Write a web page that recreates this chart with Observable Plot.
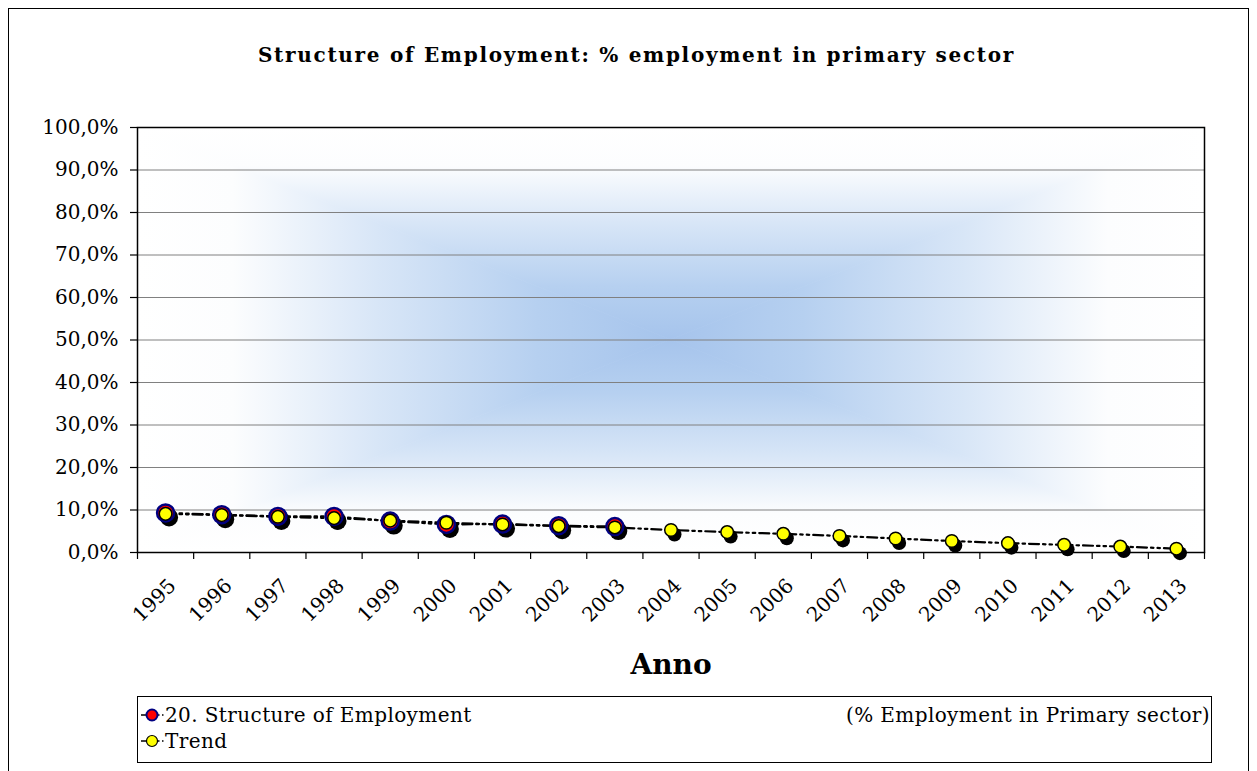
<!DOCTYPE html>
<html><head><meta charset="utf-8">
<script src="https://cdn.jsdelivr.net/npm/d3@7"></script>
<script src="https://cdn.jsdelivr.net/npm/@observablehq/plot@0.6"></script>
<style>
body{margin:0;background:#fff;font-family:"DejaVu Serif",serif;width:1257px;height:771px;overflow:hidden;position:relative;}
#border{position:absolute;left:8px;top:8px;width:1239px;height:800px;border:1.5px solid #000;}
#title{position:absolute;left:8px;width:1257px;top:43px;text-align:center;font-weight:bold;font-size:20px;letter-spacing:1.7px;color:#000;}
#chart{position:absolute;left:0;top:100px;}
#legend{position:absolute;left:137px;top:696px;width:1073px;height:65px;border:1px solid #000;background:#fff;}
.row{position:absolute;left:0;right:0;height:24px;font-size:20px;line-height:24px;letter-spacing:0.4px;}
.row svg{position:absolute;left:1px;top:0;}
.row .lab{position:absolute;}
.row .right{position:absolute;right:1px;}
</style></head><body>
<div id="border"></div>
<div id="title">Structure of Employment: % employment in primary sector</div>
<div id="chart"></div>
<div id="legend"></div>
<script>
const years = [1995,1996,1997,1998,1999,2000,2001,2002,2003,2004,2005,2006,2007,2008,2009,2010,2011,2012,2013];
const employmentYears = [1995,1996,1997,1998,1999,2000,2001,2002,2003];
const employmentValues = [9.3,8.9,8.5,8.5,7.4,6.6,6.7,6.3,6.1];
const trendValues = [9.1,8.8,8.4,8.1,7.5,7.0,6.6,6.2,5.9,5.3,4.8,4.4,3.9,3.3,2.7,2.2,1.8,1.4,0.9];
const yTicks = [0,10,20,30,40,50,60,70,80,90,100];
const seriesNames = ["20. Structure of Employment","Trend"];
const legendNote = "(% Employment in Primary sector)";
const xLabel = "Anno";

const emp = employmentYears.map((y,i)=>({year:y, value:employmentValues[i]}));
const trend = years.map((y,i)=>({year:y, value:trendValues[i]}));
const bounds = [years[0]-0.5, ...years.map(y=>y+0.5)];
const dash = "10,4,2.5,4,2.5,4";
const font = "DejaVu Serif";

const plot = Plot.plot({
  width: 1257, height: 590,
  marginLeft: 137, marginRight: 53, marginTop: 27, marginBottom: 138,
  style: {fontFamily: font, background: "transparent", color: "#000"},
  x: {domain: [bounds[0], bounds[bounds.length-1]]},
  y: {domain: [0, 100]},
  marks: [
    Plot.gridY(yTicks.slice(1, -1), {stroke: "#808080", strokeOpacity: 1, strokeWidth: 1}),
    Plot.frame({stroke: "#000", strokeWidth: 1.5}),
    Plot.axisY(yTicks, {tickSize: 7, tickPadding: 12, fontSize: 20, tickFormat: d => d.toFixed(1).replace(".", ",") + "%", label: null, strokeWidth: 1.2}),
    Plot.axisX(bounds, {tickSize: 7, tickFormat: () => "", label: null, strokeWidth: 1.2}),
    Plot.axisX(years, {tickSize: 0, tickRotate: -45, tickPadding: 30, dx: 7, fontSize: 20, tickFormat: d => String(d), label: null}),
    Plot.text([xLabel], {frameAnchor: "bottom", dy: 121, fontSize: 28, fontWeight: "bold", text: d => d}),
    Plot.line(emp, {x: "year", y: "value", stroke: "#000", strokeWidth: 2.2, strokeDasharray: dash}),
    Plot.line(trend, {x: "year", y: "value", stroke: "#000", strokeWidth: 2.2, strokeDasharray: dash}),
    Plot.dot(emp, {x: "year", y: "value", r: 9, fill: "#000", stroke: "none", dx: 3.5, dy: 4.5}),
    Plot.dot(trend, {x: "year", y: "value", r: 7, fill: "#000", stroke: "none", dx: 3.5, dy: 4.5}),
    Plot.dot(emp, {x: "year", y: "value", r: 8.5, fill: "#ff0000", stroke: "#000080", strokeWidth: 2.5}),
    Plot.dot(trend, {x: "year", y: "value", r: 6.3, fill: "#ffff00", stroke: "#000", strokeWidth: 1.5})
  ]
});

// gradient background (rectangular "from center" fill) behind the marks
const sx = plot.scale("x"), sy = plot.scale("y");
const L = sx.apply(bounds[0]), R = sx.apply(bounds[bounds.length-1]);
const T = sy.apply(100), B = sy.apply(0);
const cx = (L+R)/2, cy = (T+B)/2;
const svg = d3.select(plot);
const defs = svg.insert("defs", ":first-child");
const stops = [[0,"#ffffff"],[0.18,"#fcfdfe"],[0.45,"#d8e6f7"],[0.75,"#b6d0f0"],[1,"#a6c4ec"]];
function grad(id, x1,y1,x2,y2){
  const g = defs.append("linearGradient").attr("id", id).attr("gradientUnits","userSpaceOnUse")
    .attr("x1",x1).attr("y1",y1).attr("x2",x2).attr("y2",y2);
  stops.forEach(([o,c])=>g.append("stop").attr("offset",o).attr("stop-color",c));
}
grad("gT", 0,T,0,cy); grad("gB",0,B,0,cy); grad("gL",L,0,cx,0); grad("gR",R,0,cx,0);
const bg = svg.insert("g", "defs + *");
[["gT",[[L,T],[R,T],[cx,cy]]],["gB",[[L,B],[R,B],[cx,cy]]],["gL",[[L,T],[L,B],[cx,cy]]],["gR",[[R,T],[R,B],[cx,cy]]]]
 .forEach(([id,pts])=>bg.append("polygon").attr("points",pts.map(p=>p.join(",")).join(" "))
   .attr("fill",`url(#${id})`).attr("stroke",`url(#${id})`).attr("stroke-width",0.8));

document.getElementById("chart").appendChild(plot);

// legend
const leg = d3.select("#legend");
function row(top, name, fill, stroke, r, sw, note){
  const rw = leg.append("div").attr("class","row").style("top", top+"px");
  const s = rw.append("svg").attr("width",30).attr("height",24);
  s.append("line").attr("x1",2).attr("x2",26).attr("y1",12).attr("y2",12).attr("stroke","#000").attr("stroke-width",1.5).attr("stroke-dasharray","6,2.5,1.5,2.5");
  s.append("circle").attr("cx",13).attr("cy",12).attr("r",r).attr("fill",fill).attr("stroke",stroke).attr("stroke-width",sw);
  rw.append("span").attr("class","lab").style("left","27px").text(name);
  if (note) rw.append("span").attr("class","right").text(note);
}
row(6, seriesNames[0], "#ff0000", "#000080", 5.5, 2, legendNote);
row(32, seriesNames[1], "#ffff00", "#000", 5.5, 1.2, null);
</script>
</body></html>
